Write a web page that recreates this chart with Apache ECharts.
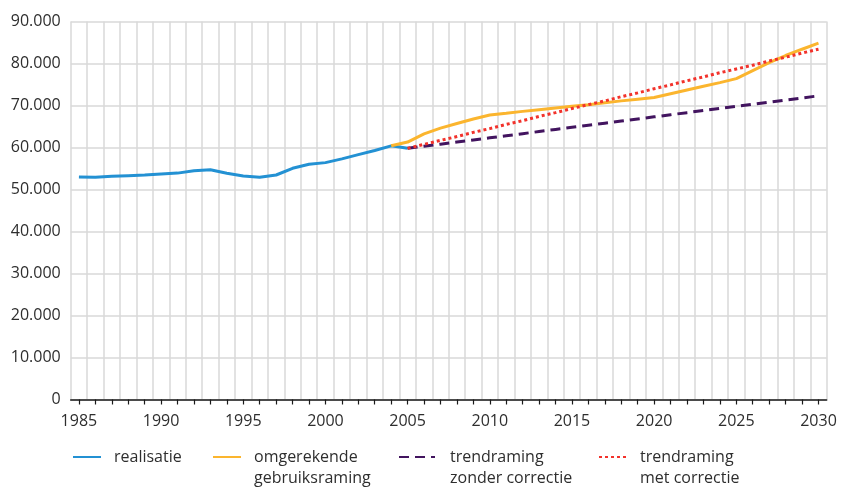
<!DOCTYPE html>
<html>
<head>
<meta charset="utf-8">
<script src="https://cdn.jsdelivr.net/npm/echarts@6/dist/echarts.min.js"></script>
<style>
html,body{margin:0;padding:0;background:#fff;}
#chart{width:841px;height:488px;}
</style>
</head>
<body>
<div id="chart"></div>
<script>
// Categories (years)
var years = [];
for (var yr = 1985; yr <= 2030; yr++) years.push(String(yr));

// realisatie 1985-2005
var realisatie = [53000, 52900, 53150, 53300, 53450, 53700, 53900, 54450, 54700, 53850, 53200, 52900, 53450, 55050, 56000, 56400, 57300, 58300, 59300, 60400, 59800];
// omgerekende gebruiksraming 2004-2030
var gebruiksraming = [60400, 61300, 63250, 64600, 65700, 66800, 67750, 68150, 68600, 69000, 69400, 69800, 70200, 70650, 71100, 71500, 71900, 72800, 73700, 74600, 75450, 76400, 78300, 80200, 81900, 83400, 84850];
// trendraming zonder correctie 2005-2030
var zonderCorrectie = [59800, 60300, 60800, 61300, 61800, 62300, 62800, 63300, 63800, 64300, 64800, 65300, 65800, 66300, 66800, 67300, 67800, 68300, 68800, 69300, 69800, 70300, 70800, 71300, 71800, 72300];
// trendraming met correctie 2005-2030
var metCorrectie = [59800, 60750, 61700, 62600, 63600, 64500, 65500, 66400, 67400, 68300, 69300, 70200, 71100, 72100, 73000, 74000, 74900, 75900, 76800, 77800, 78700, 79600, 80600, 81500, 82500, 83400];

var yTicks = [0, 10000, 20000, 30000, 40000, 50000, 60000, 70000, 80000, 90000];

function place(arr, startYear) {
  var out = years.map(function () { return null; });
  for (var i = 0; i < arr.length; i++) out[startYear - 1985 + i] = arr[i];
  return out;
}

var names = ['realisatie', 'omgerekende\ngebruiksraming', 'trendraming\nzonder correctie', 'trendraming\nmet correctie'];
var FONT = 'Open Sans';
var txt = '#2e2e2e';
var LH = 21;

function legendItem(name, left, width, padLeft, twoLine) {
  return {
    data: [name],
    left: left,
    top: twoLine ? 457 - 1.5 * LH : 457 - 0.5 * LH,
    padding: 0,
    itemWidth: width,
    itemHeight: 14,
    itemGap: 0,
    selectedMode: false,
    itemStyle: {opacity: 0},
    formatter: function (n) { return twoLine ? ' \n' + n : n; },
    textStyle: {
      fontFamily: FONT, fontSize: 16, color: txt, lineHeight: LH,
      padding: [0, 0, 0, padLeft]
    }
  };
}

var chart = echarts.init(document.getElementById('chart'), null, {renderer: 'canvas'});
chart.setOption({
  animation: false,
  backgroundColor: '#ffffff',
  grid: {left: 70.7, right: 14.3, top: 21.5, bottom: 88.5, containLabel: false},
  legend: [
    legendItem(names[0], 72, 28, 8, false),
    legendItem(names[1], 212, 28, 8, true),
    legendItem(names[2], 398, 36, 10, true),
    legendItem(names[3], 598, 30, 6, true)
  ],
  xAxis: {
    type: 'category',
    data: years,
    boundaryGap: true,
    axisLine: {show: true, lineStyle: {color: '#1a1a1a', width: 1.5}},
    axisTick: {show: true, alignWithLabel: true, interval: 0, length: 5, lineStyle: {color: '#1a1a1a', width: 1.2}},
    axisLabel: {interval: 4, margin: 14, fontFamily: FONT, fontSize: 16, color: txt},
    splitLine: {show: true, interval: 0, lineStyle: {color: '#d9d9d9', width: 1.5}}
  },
  yAxis: {
    type: 'value',
    min: yTicks[0],
    max: yTicks[yTicks.length - 1],
    interval: yTicks[1] - yTicks[0],
    axisLine: {show: false},
    axisTick: {show: false},
    axisLabel: {
      margin: 10, fontFamily: FONT, fontSize: 16, color: txt,
      formatter: function (v) { return v === 0 ? '0' : (v / 1000).toFixed(0) + '.000'; }
    },
    splitLine: {show: true, lineStyle: {color: '#d9d9d9', width: 1.5}}
  },
  series: [
    {name: names[0], type: 'line', data: place(realisatie, 1985), symbol: 'none', z: 3,
     lineStyle: {color: '#2391d3', width: 3}, itemStyle: {color: '#2391d3'}},
    {name: names[1], type: 'line', data: place(gebruiksraming, 2004), symbol: 'none', z: 4,
     lineStyle: {color: '#fbb52e', width: 3}, itemStyle: {color: '#fbb52e'}},
    {name: names[2], type: 'line', data: place(zonderCorrectie, 2005), symbol: 'none', z: 5,
     lineStyle: {color: '#42145f', width: 3, type: [10, 6]}, itemStyle: {color: '#42145f'}},
    {name: names[3], type: 'line', data: place(metCorrectie, 2005), symbol: 'none', z: 6,
     lineStyle: {color: '#f2322b', width: 3, type: [3, 3]}, itemStyle: {color: '#f2322b'}}
  ]
});
</script>
</body>
</html>
